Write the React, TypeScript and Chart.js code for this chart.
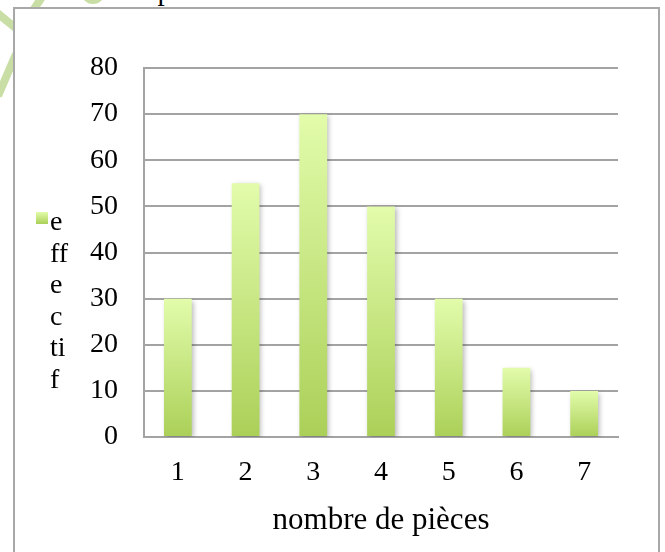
import { useEffect, useRef } from "react";
import { Chart, registerables } from "chart.js";

Chart.register(...registerables);

const categories = ["1", "2", "3", "4", "5", "6", "7"];
const effectif = [30, 55, 70, 50, 30, 15, 10];
const seriesLabel = "effectif";
const legendLines = ["e", "ff", "e", "c", "ti", "f"];
const yMin = 0;
const yMax = 80;
const yStep = 10;
const xTitle = "nombre de pièces";
const headerText = "de pièces : de tâches.";

const TOP_COLOR = "#e2fcab";
const BOTTOM_COLOR = "#abd058";
const GRID_COLOR = "#a3a3a3";
const FONT = "'Liberation Serif', 'DejaVu Serif', serif";

export default function App() {
  const canvasRef = useRef<HTMLCanvasElement | null>(null);

  useEffect(() => {
    const canvas = canvasRef.current;
    if (!canvas) return;

    const shadowPlugin = {
      id: "barShadow",
      beforeDatasetsDraw(chart: any) {
        const ctx = chart.ctx;
        ctx.save();
        ctx.shadowColor = "rgba(0,0,0,0.28)";
        ctx.shadowBlur = 5;
        ctx.shadowOffsetX = 2;
        ctx.shadowOffsetY = 2;
      },
      afterDatasetsDraw(chart: any) {
        chart.ctx.restore();
      },
    };

    const legendPlugin = {
      id: "wrappedLegend",
      afterDraw(chart: any) {
        const ctx = chart.ctx;
        ctx.save();
        const bx = 36, by = 212, bs = 12;
        const g = ctx.createLinearGradient(0, by, 0, by + bs);
        g.addColorStop(0, TOP_COLOR);
        g.addColorStop(1, BOTTOM_COLOR);
        ctx.fillStyle = g;
        ctx.fillRect(bx, by, bs, bs);
        ctx.fillStyle = "#000";
        ctx.font = `28px ${FONT}`;
        ctx.textAlign = "left";
        ctx.textBaseline = "alphabetic";
        legendLines.forEach((line, i) => {
          ctx.fillText(line, 50, 230 + i * 31.6);
        });
        ctx.restore();
      },
    };

    const chart = new Chart(canvas, {
      type: "bar",
      data: {
        labels: categories,
        datasets: [
          {
            label: seriesLabel,
            data: effectif,
            barPercentage: 0.41,
            categoryPercentage: 1,
            borderWidth: 0,
            backgroundColor: (c: any) => {
              const ch = c.chart;
              const ys = ch.scales?.y;
              if (!ys || c.parsed == null) return BOTTOM_COLOR;
              const top = ys.getPixelForValue(c.parsed.y);
              const bottom = ys.getPixelForValue(0);
              if (!isFinite(top) || !isFinite(bottom) || top === bottom) return BOTTOM_COLOR;
              const g = ch.ctx.createLinearGradient(0, top, 0, bottom);
              g.addColorStop(0, TOP_COLOR);
              g.addColorStop(1, BOTTOM_COLOR);
              return g;
            },
          },
        ],
      },
      options: {
        responsive: false,
        animation: false,
        devicePixelRatio: 1,
        layout: { padding: { left: 0, top: 68, right: 47, bottom: 0 } },
        plugins: {
          legend: { display: false },
          tooltip: { enabled: false },
        },
        scales: {
          x: {
            grid: { display: false, drawTicks: false },
            border: { display: true, color: GRID_COLOR, width: 2 },
            ticks: {
              color: "#000",
              font: { family: FONT, size: 28 },
              padding: 19,
            },
            title: {
              display: true,
              text: xTitle,
              color: "#000",
              font: { family: FONT, size: 31 },
              padding: { top: 0, bottom: 13 },
            },
            afterFit(scale: any) {
              scale.height = 115;
            },
          },
          y: {
            min: yMin,
            max: yMax,
            ticks: {
              stepSize: yStep,
              color: "#000",
              font: { family: FONT, size: 28 },
              padding: 26,
            },
            grid: { color: GRID_COLOR, lineWidth: 2, drawTicks: false },
            border: { display: true, color: GRID_COLOR, width: 2 },
            afterFit(scale: any) {
              scale.width = 144;
            },
          },
        },
      },
      plugins: [shadowPlugin, legendPlugin],
    });

    return () => chart.destroy();
  }, []);

  return (
    <div style={{ position: "fixed", left: 0, top: 0, width: 665, height: 552, overflow: "hidden", background: "#fff" }}>
      <svg width={665} height={552} style={{ position: "absolute", left: 0, top: 0 }}>
        <g stroke="#c9dea4" strokeWidth={8} fill="none" strokeLinecap="butt">
          <line x1={-4} y1={12} x2={18} y2={30} />
          <line x1={16} y1={54} x2={-2} y2={96} />
          <line x1={44} y1={-6} x2={32} y2={12} />
        </g>
        <circle cx={93} cy={-8} r={12} fill="#c9dea4" />
      </svg>
      <div
        style={{
          position: "absolute",
          left: 13,
          top: 7,
          width: 647,
          height: 620,
          boxSizing: "border-box",
          border: "2px solid #a8a8a8",
          background: "#fff",
        }}
      />
      <div
        style={{
          position: "absolute",
          left: 123,
          top: -24,
          fontFamily: FONT,
          fontSize: 29,
          lineHeight: 1,
          whiteSpace: "nowrap",
          color: "#000",
        }}
      >
        {headerText}
      </div>
      <canvas
        ref={canvasRef}
        width={665}
        height={552}
        style={{ position: "absolute", left: 0, top: 0, width: 665, height: 552 }}
      />
    </div>
  );
}
